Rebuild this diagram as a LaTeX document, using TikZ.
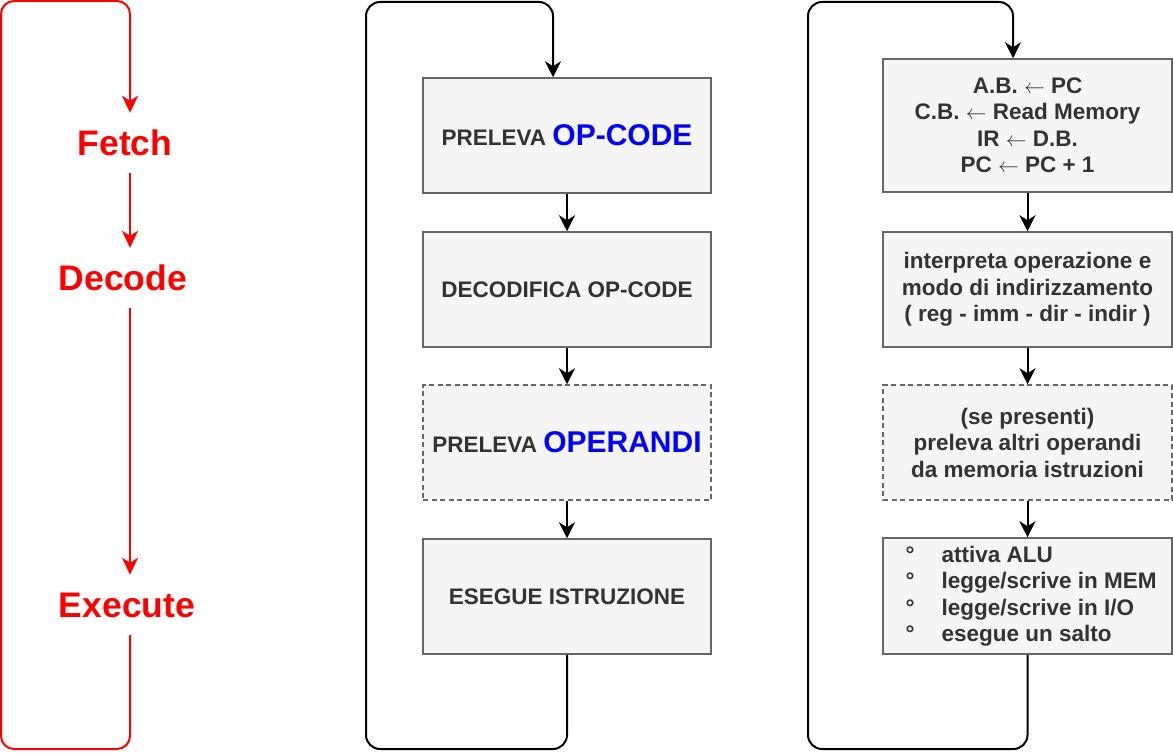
\documentclass[tikz,border=0pt]{standalone}
\usepackage{fontspec}
\setmainfont{Liberation Sans}
\usetikzlibrary{arrows.meta,calc}
\definecolor{boxfill}{HTML}{F5F5F5}
\definecolor{boxline}{HTML}{666666}
\definecolor{boxtext}{HTML}{333333}
\definecolor{bblue}{HTML}{0000FF}
\definecolor{rred}{HTML}{FF0000}
\tikzset{
  stepbox/.style={draw=boxline, fill=boxfill, line width=1.5pt, text=boxtext,
    font=\fontsize{22.5}{26.5}\selectfont\bfseries, align=center, inner sep=0pt},
  dashbox/.style={stepbox, dash pattern=on 5pt off 3.5pt},
  redlabel/.style={text=rred, font=\fontsize{35.5}{40}\selectfont\bfseries, minimum height=60pt, inner sep=0pt},
  redarrow/.style={draw=rred, line width=2pt, -{Stealth[length=17pt,width=16pt,inset=5pt]}},
  blackarrow/.style={draw=black, line width=2pt, -{Stealth[length=16pt,width=16pt,inset=5pt]}}
}
\newcommand{\bulitem}[1]{\makebox[270pt][l]{\makebox[49pt][l]{\hspace*{13pt}°}#1}}
\begin{document}
\begin{tikzpicture}[x=1pt,y=-1pt]
\useasboundingbox (0,0) rectangle (1173,754);
% ---------- left red cycle ----------
\node[redlabel] (fetch) at (125,143) {Fetch};
\node[redlabel] (decode) at (123,278) {Decode};
\node[redlabel] (execute) at (127,605) {Execute};
\coordinate (rc) at (130,0);
\draw[redarrow] (fetch.south -| rc) -- (decode.north -| rc);
\draw[redarrow] (decode.south -| rc) -- (execute.north -| rc);
\draw[redarrow, rounded corners=13pt] (execute.south -| rc) -- (130,749) -- (1,749) -- (1,1) -- (130,1) -- (fetch.north -| rc);
% ---------- middle flow ----------
\node[stepbox, minimum width=288pt, minimum height=115pt] (m1) at (567,135.5)
  {PRELEVA {\fontsize{30}{34}\selectfont\color{bblue}OP-CODE}};
\node[stepbox, minimum width=288pt, minimum height=115pt] (m2) at (567,289.5)
  {DECODIFICA OP-CODE};
\node[dashbox, minimum width=288pt, minimum height=115pt] (m3) at (567,442.5)
  {PRELEVA {\fontsize{30}{34}\selectfont\color{bblue}OPERANDI}};
\node[stepbox, minimum width=288pt, minimum height=115pt] (m4) at (567,596.5)
  {ESEGUE ISTRUZIONE};
\draw[blackarrow] (m1) -- (m2);
\draw[blackarrow] (m2) -- (m3);
\draw[blackarrow] (m3) -- (m4);
\coordinate (mc) at (553,0);
\draw[blackarrow, rounded corners=14pt] (m4.south) -- (567,749) -- (366,749) -- (366,2) -- (553,2) -- (m1.north -| mc);
% ---------- right flow ----------
\node[stepbox, minimum width=289pt, minimum height=133pt] (r1) at (1027.5,125.5)
  {A.B. $\leftarrow$ PC\\ C.B. $\leftarrow$ Read Memory\\ IR $\leftarrow$ D.B.\\ PC $\leftarrow$ PC + 1};
\node[stepbox, minimum width=289pt, minimum height=115pt] (r2) at (1027.5,289.5)
  {interpreta operazione e\\ modo di indirizzamento\\ ( reg - imm - dir - indir )};
\node[dashbox, minimum width=289pt, minimum height=115pt] (r3) at (1027.5,442.5)
  {(se presenti)\\ preleva altri operandi\\ da memoria istruzioni};
\node[stepbox, minimum width=289pt, minimum height=116pt, align=left] (r4) at (1027.5,596)
  {\bulitem{attiva ALU}\\ \bulitem{legge/scrive in MEM}\\ \bulitem{legge/scrive in I/O}\\ \bulitem{esegue un salto}};
\draw[blackarrow] (r1) -- (r2);
\draw[blackarrow] (r2) -- (r3);
\draw[blackarrow] (r3) -- (r4);
\coordinate (rcx) at (1013,0);
\draw[blackarrow, rounded corners=14pt] (r4.south) -- (1027.5,749) -- (808,749) -- (808,2) -- (1013,2) -- (r1.north -| rcx);
\end{tikzpicture}
\end{document}
